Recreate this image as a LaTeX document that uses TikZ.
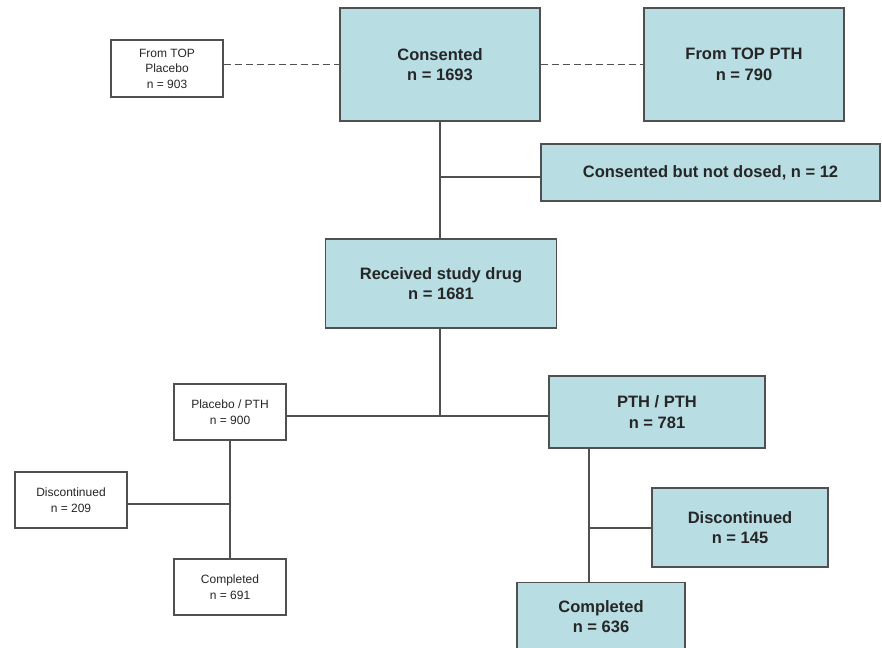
\documentclass[tikz,border=0pt]{standalone}
\usepackage{fontspec}
\setmainfont{Liberation Sans}
\definecolor{boxblue}{RGB}{184,221,227}
\definecolor{edgegray}{RGB}{80,80,80}
\begin{document}
\begin{tikzpicture}[x=1pt,y=-1pt,
  bluebox/.style={draw=edgegray,line width=1.3pt,fill=boxblue,rectangle,inner sep=0pt,align=center,
     font=\fontsize{16.5}{20.5}\selectfont\bfseries,text=black!85},
  whitebox/.style={draw=edgegray,line width=1.3pt,fill=white,rectangle,inner sep=0pt,align=center,
     font=\fontsize{12}{15.5}\selectfont,text=black!85},
  conn/.style={draw=edgegray,line width=1.3pt},
  dashconn/.style={draw=edgegray,line width=1.3pt,dash pattern=on 7pt off 4pt}]
\fill[white] (0,0) rectangle (882,647);
\clip (0,0) rectangle (882,647);
\useasboundingbox (0,0) rectangle (882,647);

\node[whitebox,minimum width=112pt,minimum height=57pt] (topplac) at (167,68.5) {From TOP\\Placebo\\n = 903};
\node[bluebox,minimum width=200pt,minimum height=113pt] (cons) at (440,64.5) {Consented\\n = 1693};
\node[bluebox,minimum width=200pt,minimum height=113pt] (toppth) at (744,64.5) {From TOP PTH\\n = 790};
\node[bluebox,minimum width=339pt,minimum height=57pt] (notdosed) at (710.5,172.5) {Consented but not dosed, n = 12};
\node[bluebox,minimum width=231pt,minimum height=89pt] (recv) at (441,283.5) {Received study drug\\n = 1681};
\node[whitebox,minimum width=112pt,minimum height=56pt] (plac) at (230,412) {Placebo / PTH\\n = 900};
\node[bluebox,minimum width=216pt,minimum height=72pt] (pth) at (657,412) {PTH / PTH\\n = 781};
\node[whitebox,minimum width=112pt,minimum height=56pt] (disc1) at (71,500) {Discontinued\\n = 209};
\node[whitebox,minimum width=112pt,minimum height=56pt] (comp1) at (230,587) {Completed\\n = 691};
\node[bluebox,minimum width=176pt,minimum height=79pt] (disc2) at (740,527.5) {Discontinued\\n = 145};
\node[bluebox,minimum width=168pt,minimum height=68pt] (comp2) at (601,616.5) {Completed\\n = 636};

\coordinate (b1) at (440,177);
\coordinate (j) at (440,416);
\coordinate (k) at (230,504);
\coordinate (v) at (589,448);
\coordinate (m) at (589,528);

\path[dashconn] (topplac.east |- cons.west) -- (cons.west);
\path[dashconn] (cons.east) -- (toppth.west);
\path[conn] (cons.south) -- (cons.south |- recv.north);
\path[conn] (b1) -- (notdosed.west |- b1);
\path[conn] (recv.south -| j) -- (j);
\path[conn] (plac.east |- j) -- (pth.west |- j);
\path[conn] (plac.south) -- (comp1.north);
\path[conn] (k) -- (disc1.east |- k);
\path[conn] (v) -- (v |- comp2.north);
\path[conn] (m) -- (disc2.west |- m);
\end{tikzpicture}
\end{document}
